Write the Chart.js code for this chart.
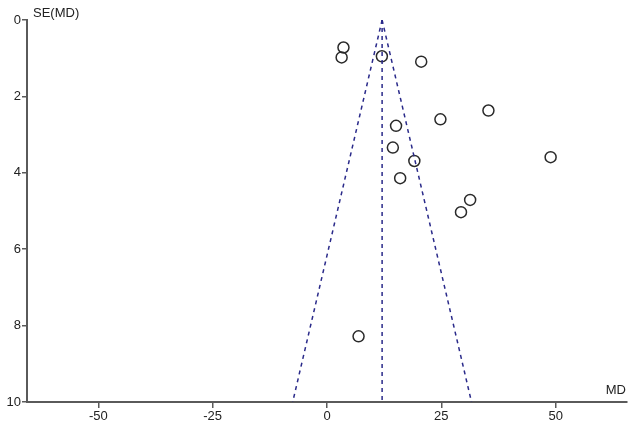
<!DOCTYPE html>
<html>
<head>
<meta charset="utf-8">
<script src="https://cdn.jsdelivr.net/npm/chart.js@4"></script>
<style>
  html, body { margin: 0; padding: 0; background: #fff; overflow: hidden; }
  #wrap { width: 634px; height: 430px; }
</style>
</head>
<body>
<div id="wrap"><canvas id="funnel"></canvas></div>
<script>
// study estimates
const md = [3.6, 3.2, 12.0, 20.6, 35.3, 24.8, 15.1, 14.4, 19.1, 48.9, 16.0, 31.3, 29.3, 6.9];
const se = [0.72, 0.98, 0.95, 1.09, 2.37, 2.6, 2.77, 3.34, 3.69, 3.59, 4.14, 4.71, 5.03, 8.28];

// pooled estimate and funnel limits (ends)
const pooledX = [12.05, 12.05];
const pooledY = [0, 10];
const leftX = [12.05, -7.5];
const rightX = [12.05, 31.6];
const limitY = [0, 10];

const xTicks = [-50, -25, 0, 25, 50];
const yTicks = [0, 2, 4, 6, 8, 10];

const pts = md.map((v, i) => ({ x: v, y: se[i] }));
const pair = (xs, ys) => xs.map((v, i) => ({ x: v, y: ys[i] }));

const dashBlue = '#2a2a8a';
const axisCol = '#5a5a5a';
const font = { family: 'Liberation Sans, Arial, sans-serif', size: 13 };

const axisLabels = {
  id: 'axisLabels',
  afterDraw(chart) {
    const ctx = chart.ctx;
    const a = chart.chartArea;
    ctx.save();
    ctx.fillStyle = '#222';
    ctx.font = '13px Liberation Sans, Arial, sans-serif';
    ctx.textBaseline = 'middle';
    ctx.textAlign = 'left';
    ctx.fillText('SE(MD)', a.left + 6, a.top - 7);
    ctx.textAlign = 'right';
    ctx.fillText('MD', a.right - 1, a.bottom - 12);
    ctx.restore();
  }
};

new Chart(document.getElementById('funnel').getContext('2d'), {
  type: 'scatter',
  data: {
    datasets: [
      {
        data: pair(leftX, limitY), showLine: true, borderColor: dashBlue,
        borderWidth: 1.5, borderDash: [4, 4], pointRadius: 0
      },
      {
        data: pair(rightX, limitY), showLine: true, borderColor: dashBlue,
        borderWidth: 1.5, borderDash: [4, 4], pointRadius: 0
      },
      {
        data: pair(pooledX, pooledY), showLine: true, borderColor: dashBlue,
        borderWidth: 1.5, borderDash: [4, 4], pointRadius: 0
      },
      {
        data: pts, pointStyle: 'circle', pointRadius: 5.5,
        pointBackgroundColor: 'rgba(255,255,255,0)', pointBorderColor: '#2a2a2a',
        pointBorderWidth: 1.5
      }
    ]
  },
  options: {
    responsive: true,
    maintainAspectRatio: false,
    animation: false,
    layout: { padding: { top: 20, right: 0, left: 0, bottom: 0 } },
    plugins: { legend: { display: false }, tooltip: { enabled: false } },
    scales: {
      x: {
        type: 'linear', min: -65.6, max: 65.6,
        afterBuildTicks: s => { s.ticks = xTicks.map(v => ({ value: v })); },
        afterFit: s => { s.height = 28; },
        border: { color: axisCol, width: 2 },
        grid: { drawOnChartArea: false, drawTicks: true, tickLength: 6, color: axisCol, lineWidth: 1.5 },
        ticks: { color: '#222', font: font, padding: 1, maxRotation: 0 }
      },
      y: {
        type: 'linear', min: 0, max: 10, reverse: true,
        afterBuildTicks: s => { s.ticks = yTicks.map(v => ({ value: v })); },
        afterFit: s => { s.width = 27; },
        border: { color: axisCol, width: 2 },
        grid: { drawOnChartArea: false, drawTicks: true, tickLength: 5, color: axisCol, lineWidth: 1.5 },
        ticks: { color: '#222', font: font, padding: 1 }
      }
    }
  },
  plugins: [axisLabels]
});
</script>
</body>
</html>
